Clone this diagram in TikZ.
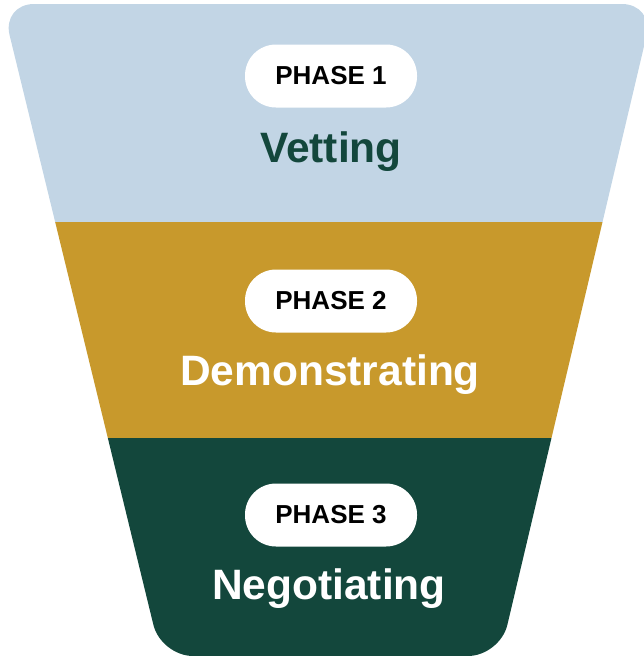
\documentclass[tikz,border=0pt]{standalone}
\usepackage{fontspec}
\setmainfont{Liberation Sans}
\usetikzlibrary{positioning}

\definecolor{vetblue}{HTML}{C2D5E5}
\definecolor{demogold}{HTML}{C8992C}
\definecolor{negogreen}{HTML}{13473C}

\tikzset{
  pill/.style={fill=white, rounded corners=31pt, minimum width=172pt, minimum height=63pt,
    font=\fontsize{26}{26}\selectfont\bfseries, text=black, inner sep=0pt},
  stage/.style={anchor=base, font=\fontsize{42.5}{42.5}\selectfont\bfseries, inner sep=0pt}
}

\begin{document}
\begin{tikzpicture}[x=1pt, y=-1pt]
    \useasboundingbox (0,0) rectangle (643,656);
    % funnel
    \begin{scope}
      \clip[rounded corners=32pt] (2,4) -- (654,4) -- (500,656) -- (161,656) -- cycle;
      \fill[vetblue]    (0,0)   rectangle (660,222);
      \fill[demogold]   (0,222) rectangle (660,438);
      \fill[negogreen]  (0,438) rectangle (660,660);
    \end{scope}
    % phases
    \node[pill] (p1) at (331,76)  {PHASE 1};
    \node[pill] (p2) at (331,301) {PHASE 2};
    \node[pill] (p3) at (331,515) {PHASE 3};
    \node[stage, text=negogreen] (vet)  at (331,162) {Vetting};
    \node[stage, text=white]     (demo) at (330,385) {Demonstrating};
    \node[stage, text=white]     (nego) at (329,599) {Negotiating};
\end{tikzpicture}
\end{document}
